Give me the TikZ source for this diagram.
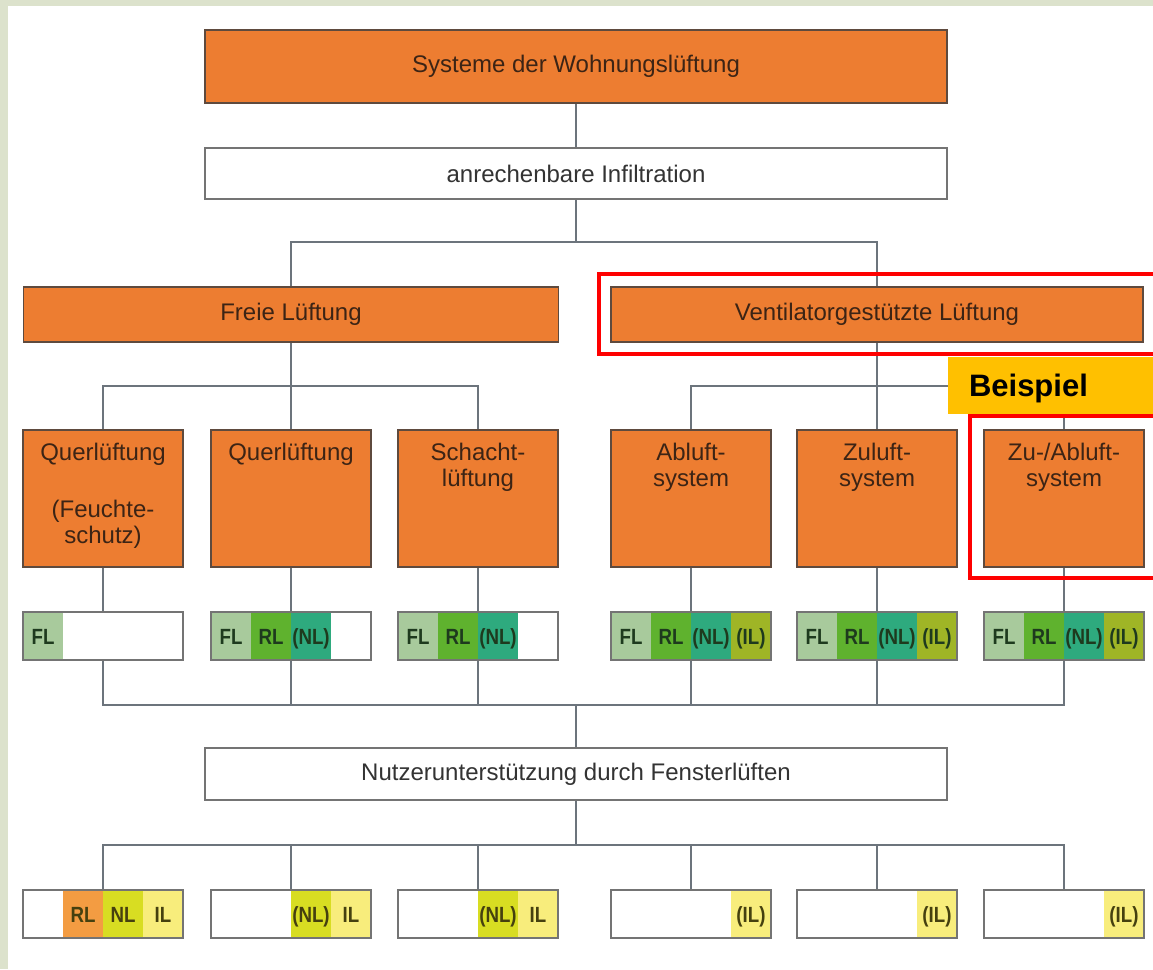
\documentclass[tikz,border=0pt]{standalone}
\usepackage{fontspec}
\setmainfont{Liberation Sans}
\newfontfamily\cellfont[FakeStretch=0.85]{Liberation Sans}
\usetikzlibrary{positioning}

\definecolor{bgframe}{HTML}{DCE2CC}
\definecolor{orng}{HTML}{ED7D31}
\definecolor{orbd}{HTML}{5E4A3E}
\definecolor{ortxt}{HTML}{3C2415}
\definecolor{whbd}{HTML}{747474}
\definecolor{whtxt}{HTML}{333333}
\definecolor{linec}{HTML}{6C747C}
\definecolor{fl}{HTML}{A8CA9C}
\definecolor{rl}{HTML}{5FB22E}
\definecolor{nl}{HTML}{2EAA7E}
\definecolor{il}{HTML}{9FB526}
\definecolor{celltxt}{HTML}{1E3A1E}
\definecolor{rlb}{HTML}{F39C42}
\definecolor{nlb}{HTML}{D8DD22}
\definecolor{ilb}{HTML}{F8ED7C}
\definecolor{bottxt}{HTML}{45400F}
\definecolor{gold}{HTML}{FFC000}
\definecolor{redf}{HTML}{FE0000}

\tikzset{
  orbox/.style={draw=orbd, line width=1.8pt, fill=orng, text=ortxt, inner sep=0pt,
    font=\fontsize{24}{26}\selectfont},
  whbox/.style={draw=whbd, line width=1.8pt, fill=white, text=whtxt, inner sep=0pt,
    font=\fontsize{24}{26}\selectfont},
  colbox/.style={orbox, minimum width=160pt, minimum height=137pt},
  coltext/.style={text=ortxt, align=center, inner sep=0pt, font=\fontsize{24}{26}\selectfont},
  cellbox/.style={draw=whbd, line width=1.8pt, minimum width=160pt, minimum height=48pt},
  seg/.style={minimum width=40pt, minimum height=48pt, inner sep=0pt, text=celltxt,
    text height=16pt, text depth=0pt,
    font=\cellfont\bfseries\fontsize{22}{22}\selectfont},
  segb/.style={seg, text=bottxt},
  link/.style={draw=linec, line width=1.8pt},
  beisp/.style={fill=gold, minimum height=57pt, text width=163pt, inner xsep=21pt,
    inner ysep=0pt, text height=22pt, text depth=0pt, align=left,
    font=\bfseries\fontsize{31}{31}\selectfont},
  redframe/.style={draw=redf, line width=3.6pt},
}

\begin{document}
\begin{tikzpicture}[x=1pt, y=-1pt, line join=miter]
\useasboundingbox (0,0) rectangle (1153,969);
\fill[bgframe] (0,0) rectangle (1153,969);
\fill[white] (8,6) rectangle (1153,969);

% upper part
\node[orbox, minimum width=742pt, minimum height=73pt] (top) at (576,66.5) {Systeme der Wohnungslüftung};
\node[whbox, minimum width=742pt, minimum height=51pt] (infil) at (576,173.5) {anrechenbare Infiltration};
\node[orbox, minimum width=535pt, minimum height=55pt] (freie) at (291,314.5) {Freie Lüftung};
\node[orbox, minimum width=532pt, minimum height=55pt] (venti) at (877,314.5) {Ventilatorgestützte Lüftung};

% systems
\node[colbox] (sys1) at (103,498.5) {};
\node[colbox] (sys2) at (291,498.5) {};
\node[colbox] (sys3) at (478,498.5) {};
\node[colbox] (sys4) at (691,498.5) {};
\node[colbox] (sys5) at (877,498.5) {};
\node[colbox] (sys6) at (1064,498.5) {};
\node[coltext, below=14pt of sys1.north] (lab1) {Querlüftung\\[31pt](Feuchte-\\schutz)};
\node[coltext, below=14pt of sys2.north] (lab2) {Querlüftung};
\node[coltext, below=14pt of sys3.north] (lab3) {Schacht-\\lüftung};
\node[coltext, below=14pt of sys4.north] (lab4) {Abluft-\\system};
\node[coltext, below=14pt of sys5.north] (lab5) {Zuluft-\\system};
\node[coltext, below=14pt of sys6.north] (lab6) {Zu-/Abluft-\\system};

% Lueftungsstufen
\node[seg, fill=fl] (st1a) at (43,636) {FL};
\node[seg, fill=fl] (st2a) at (231,636) {FL};
\node[seg, fill=rl] (st2b) at (271,636) {RL};
\node[seg, fill=nl] (st2c) at (311,636) {(NL)};
\node[seg, fill=fl] (st3a) at (418,636) {FL};
\node[seg, fill=rl] (st3b) at (458,636) {RL};
\node[seg, fill=nl] (st3c) at (498,636) {(NL)};
\node[seg, fill=fl] (st4a) at (631,636) {FL};
\node[seg, fill=rl] (st4b) at (671,636) {RL};
\node[seg, fill=nl] (st4c) at (711,636) {(NL)};
\node[seg, fill=il] (st4d) at (751,636) {(IL)};
\node[seg, fill=fl] (st5a) at (817,636) {FL};
\node[seg, fill=rl] (st5b) at (857,636) {RL};
\node[seg, fill=nl] (st5c) at (897,636) {(NL)};
\node[seg, fill=il] (st5d) at (937,636) {(IL)};
\node[seg, fill=fl] (st6a) at (1004,636) {FL};
\node[seg, fill=rl] (st6b) at (1044,636) {RL};
\node[seg, fill=nl] (st6c) at (1084,636) {(NL)};
\node[seg, fill=il] (st6d) at (1124,636) {(IL)};
\node[cellbox] (stufe1) at (103,636) {};
\node[cellbox] (stufe2) at (291,636) {};
\node[cellbox] (stufe3) at (478,636) {};
\node[cellbox] (stufe4) at (691,636) {};
\node[cellbox] (stufe5) at (877,636) {};
\node[cellbox] (stufe6) at (1064,636) {};

\node[whbox, minimum width=742pt, minimum height=52pt] (nutzer) at (576,774) {Nutzerunterstützung durch Fensterlüften};

% Fensterlueften
\node[segb, fill=rlb] (fe1b) at (83,914) {RL};
\node[segb, fill=nlb] (fe1c) at (123,914) {NL};
\node[segb, fill=ilb] (fe1d) at (163,914) {IL};
\node[segb, fill=nlb] (fe2c) at (311,914) {(NL)};
\node[segb, fill=ilb] (fe2d) at (351,914) {IL};
\node[segb, fill=nlb] (fe3c) at (498,914) {(NL)};
\node[segb, fill=ilb] (fe3d) at (538,914) {IL};
\node[segb, fill=ilb] (fe4d) at (751,914) {(IL)};
\node[segb, fill=ilb] (fe5d) at (937,914) {(IL)};
\node[segb, fill=ilb] (fe6d) at (1124,914) {(IL)};
\node[cellbox] (fenster1) at (103,914) {};
\node[cellbox] (fenster2) at (291,914) {};
\node[cellbox] (fenster3) at (478,914) {};
\node[cellbox] (fenster4) at (691,914) {};
\node[cellbox] (fenster5) at (877,914) {};
\node[cellbox] (fenster6) at (1064,914) {};

% connectors
\coordinate (bus1) at (576,242);
\coordinate (bus2) at (291,386);
\coordinate (bus3) at (877,386);
\coordinate (bus4) at (576,705);
\coordinate (bus5) at (576,845);

\draw[link] (top) -- (infil);
\draw[link] (infil) -- (bus1);
\draw[link] (bus1) -| (freie);
\draw[link] (bus1) -| (venti);

\draw[link] (freie) -- (bus2);
\draw[link] (bus2) -| (sys1);
\draw[link] (bus2) -- (sys2);
\draw[link] (bus2) -| (sys3);
\draw[link] (venti) -- (bus3);
\draw[link] (bus3) -| (sys4);
\draw[link] (bus3) -- (sys5);
\draw[link] (bus3) -| (sys6);

\draw[link] (sys1) -- (stufe1);
\draw[link] (sys2) -- (stufe2);
\draw[link] (sys3) -- (stufe3);
\draw[link] (sys4) -- (stufe4);
\draw[link] (sys5) -- (stufe5);
\draw[link] (sys6) -- (stufe6);

\draw[link] (stufe1) |- (bus4);
\draw[link] (stufe2) |- (bus4);
\draw[link] (stufe3) |- (bus4);
\draw[link] (stufe4) |- (bus4);
\draw[link] (stufe5) |- (bus4);
\draw[link] (stufe6) |- (bus4);
\draw[link] (bus4) -- (nutzer);

\draw[link] (nutzer) -- (bus5);
\draw[link] (bus5) -| (fenster1);
\draw[link] (bus5) -| (fenster2);
\draw[link] (bus5) -| (fenster3);
\draw[link] (bus5) -| (fenster4);
\draw[link] (bus5) -| (fenster5);
\draw[link] (bus5) -| (fenster6);

% Beispiel
\node[beisp] (beispiel) at (1050.5,385.5) {Beispiel};
\draw[redframe] (1153,274) -| (599,354) -- (1153,354);
\draw[redframe] (1153,416) -| (970,578) -- (1153,578);
\end{tikzpicture}
\end{document}
